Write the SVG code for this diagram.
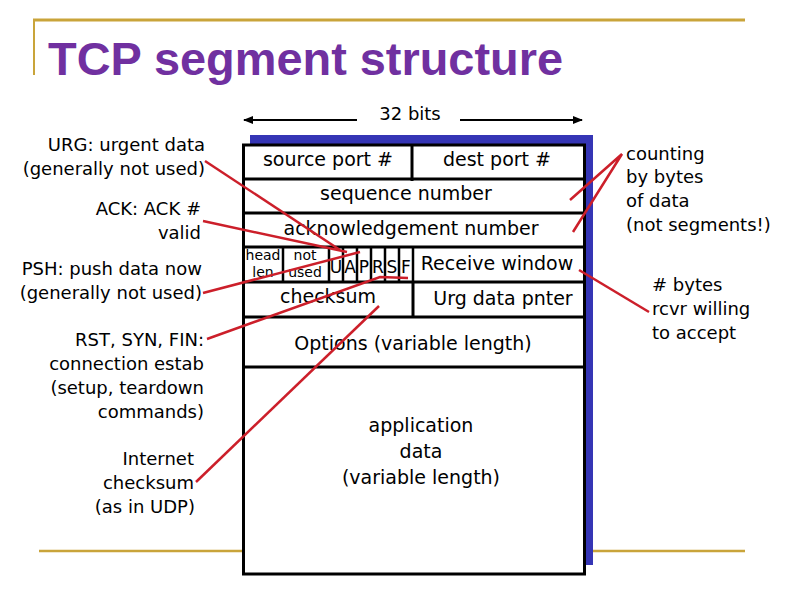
<svg xmlns="http://www.w3.org/2000/svg" width="792" height="612" viewBox="0 0 792 612">
<defs>
<marker id="ah" viewBox="0 0 10 10" refX="9" refY="5" markerWidth="5" markerHeight="5" orient="auto-start-reverse" markerUnits="strokeWidth"><path d="M0,1 L10,5 L0,9 z" fill="#000"/></marker>
</defs>
<style>
.t{font-family:"DejaVu Sans","Liberation Sans",sans-serif;fill:#000}
.l{font-size:18px}
.r{text-anchor:end}
.m{text-anchor:middle}
.f{font-size:19px}
.s{font-size:14px}
.box{fill:#fff;stroke:#000;stroke-width:3}
.ln{stroke:#000;stroke-width:3}
.red{stroke:#CC1F2A;stroke-width:2.5;fill:none}
.gold{stroke:#C9A43A}
</style>
<rect width="792" height="612" fill="#fff"/>
<g id="frame">
<line class="gold" x1="33" y1="20" x2="745" y2="20" stroke-width="3"/>
<line class="gold" x1="34" y1="20" x2="34" y2="75" stroke-width="2"/>
<line class="gold" x1="39" y1="551" x2="745" y2="551" stroke-width="2.5"/>
<text x="48" y="75" font-family="Liberation Sans,Arial,sans-serif" font-weight="bold" font-size="46" fill="#7030A0" textLength="515" lengthAdjust="spacingAndGlyphs">TCP segment structure</text>
</g>
<g id="bits">
<line x1="244" y1="120" x2="357" y2="120" stroke="#000" stroke-width="2" marker-start="url(#ah)"/>
<line x1="460" y1="120" x2="582" y2="120" stroke="#000" stroke-width="2" marker-end="url(#ah)"/>
<text class="t l m" x="410" y="120">32 bits</text>
</g>
<g id="segment">
<rect x="250" y="135" width="343" height="430" fill="#3535B5"/>
<rect class="box" x="243.5" y="145" width="341" height="429"/>
<line class="ln" x1="243" y1="179" x2="585" y2="179"/>
<line class="ln" x1="243" y1="213" x2="585" y2="213"/>
<line class="ln" x1="243" y1="247" x2="585" y2="247"/>
<line class="ln" x1="243" y1="282" x2="585" y2="282"/>
<line class="ln" x1="243" y1="317" x2="585" y2="317"/>
<line class="ln" x1="243" y1="367" x2="585" y2="367"/>
<line class="ln" x1="412" y1="145" x2="412" y2="181"/>
<line class="ln" x1="413" y1="282" x2="413" y2="317"/>
<g stroke="#000" stroke-width="2.5">
<line x1="283" y1="247" x2="283" y2="282"/>
<line x1="329" y1="247" x2="329" y2="282"/>
<line x1="343" y1="247" x2="343" y2="282"/>
<line x1="357" y1="247" x2="357" y2="282"/>
<line x1="371" y1="247" x2="371" y2="282"/>
<line x1="385" y1="247" x2="385" y2="282"/>
<line x1="399" y1="247" x2="399" y2="282"/>
<line x1="413" y1="247" x2="413" y2="282"/>
</g>
<text class="t f m" x="328" y="166">source port #</text>
<text class="t f m" x="497" y="166">dest port #</text>
<text class="t f m" x="406" y="200">sequence number</text>
<text class="t f m" x="411" y="235">acknowledgement number</text>
<text class="t s m" x="263" y="260">head</text>
<text class="t s m" x="263" y="277">len</text>
<text class="t s m" x="305" y="260">not</text>
<text class="t s m" x="305" y="277">used</text>
<g class="t m" font-size="17">
<text x="336" y="273">U</text>
<text x="350" y="273">A</text>
<text x="364" y="273">P</text>
<text x="378" y="273">R</text>
<text x="392" y="273">S</text>
<text x="406" y="273">F</text>
</g>
<text class="t f m" x="497" y="270">Receive window</text>
<text class="t f m" x="328" y="303">checksum</text>
<text class="t f m" x="503" y="305">Urg data pnter</text>
<text class="t f m" x="413" y="350">Options (variable length)</text>
<text class="t f m" x="421" y="432">application</text>
<text class="t f m" x="421" y="458">data</text>
<text class="t f m" x="421" y="484">(variable length)</text>
</g>
<g id="labels-left">
<text class="t l r" x="205" y="151">URG: urgent data</text>
<text class="t l r" x="205" y="175">(generally not used)</text>
<text class="t l r" x="201" y="215">ACK: ACK #</text>
<text class="t l r" x="201" y="239">valid</text>
<text class="t l r" x="202" y="275">PSH: push data now</text>
<text class="t l r" x="202" y="299">(generally not used)</text>
<text class="t l r" x="204" y="346">RST, SYN, FIN:</text>
<text class="t l r" x="204" y="370">connection estab</text>
<text class="t l r" x="204" y="394">(setup, teardown</text>
<text class="t l r" x="204" y="418">commands)</text>
<text class="t l r" x="194" y="465">Internet</text>
<text class="t l r" x="194" y="489">checksum</text>
<text class="t l r" x="195" y="513">(as in UDP)</text>
</g>
<g id="labels-right">
<text class="t l" x="626" y="160">counting</text>
<text class="t l" x="626" y="183">by bytes</text>
<text class="t l" x="626" y="207">of data</text>
<text class="t l" x="626" y="231">(not segments!)</text>
<text class="t l" x="652" y="291"># bytes</text>
<text class="t l" x="652" y="315">rcvr willing</text>
<text class="t l" x="652" y="339">to accept</text>
</g>
<g id="connectors">
<line class="red" x1="205" y1="161" x2="340" y2="250"/>
<line class="red" x1="203" y1="221" x2="347" y2="252"/>
<line class="red" x1="203" y1="293" x2="360" y2="252"/>
<polyline class="red" points="207,339 380,277 408,278"/>
<line class="red" x1="196" y1="482" x2="379" y2="306"/>
<polyline class="red" points="570,200 622,154 573,232"/>
<line class="red" x1="579" y1="270" x2="649" y2="312"/>
</g>
</svg>
